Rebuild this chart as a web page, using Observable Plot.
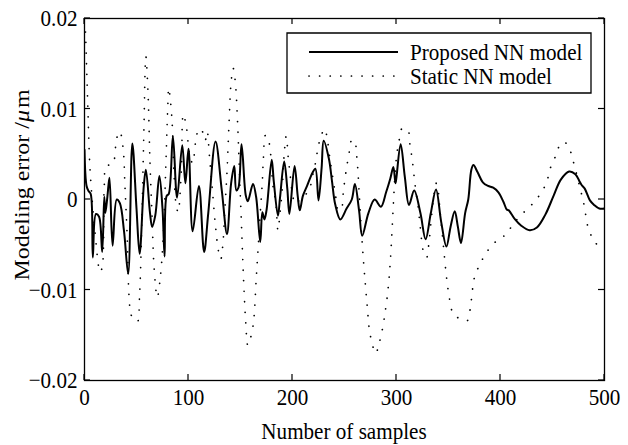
<!DOCTYPE html>
<html>
<head>
<meta charset="utf-8">
<script src="https://cdn.jsdelivr.net/npm/d3@7"></script>
<script src="https://cdn.jsdelivr.net/npm/@observablehq/plot@0.6"></script>
<style>
  html, body { margin: 0; padding: 0; background: white; }
</style>
</head>
<body>
<div id="chart"></div>
<script>
// ---- data ----
const seriesNames = ["Proposed NN model", "Static NN model"];

const proposedSample = [0,2,4,6,8,11,14,17,19,20,22,24,27,31,34,38,42,46,50,53,57,59,63,65,68,72,75,77,79,81,85,89,94,97,100,104,110,115,119,126,132,137,141,144,146,148,151,155,157,162,165,169,171,173,175,180,182,186,188,192,195,197,202,205,207,210,214,219,222,225,228,230,235,238,241,246,252,257,260,264,267,273,279,285,290,294,297,299,300,304,308,312,317,323,328,333,338,343,348,352,356,359,362,366,369,372,374,378,383,388,393,398,403,406,408,414,420,428,435,443,451,458,466,472,476,478,481,486,490,495,500];
const proposedError = [0.0055,0.0015,0.0009,0.0006,-0.0064,-0.0016,-0.0019,-0.0058,0.0003,-0.0015,0.0003,0.0024,-0.0051,0.0000,-0.0004,-0.0035,-0.0082,0.0062,-0.0010,-0.0060,0.0015,0.0033,-0.0015,-0.0030,-0.0018,0.0026,-0.0010,-0.0063,0.0004,0.0006,0.0070,0.0002,0.0060,0.0018,0.0056,-0.0035,0.0015,-0.0058,-0.0015,0.0064,0.0010,-0.0038,0.0018,0.0037,0.0010,0.0013,0.0061,0.0005,-0.0002,0.0017,0.0003,-0.0047,-0.0014,-0.0022,-0.0012,0.0044,0.0020,-0.0018,0.0002,0.0042,0.0012,-0.0016,0.0037,0.0004,-0.0012,0.0004,0.0015,0.0029,0.0034,-0.0001,0.0035,0.0065,0.0045,0.0020,-0.0005,-0.0022,-0.0010,0.0000,0.0017,-0.0012,-0.0040,-0.0015,0.0000,-0.0008,0.0008,0.0023,0.0036,0.0018,0.0025,0.0061,0.0025,-0.0006,0.0010,-0.0015,-0.0044,-0.0015,0.0011,-0.0025,-0.0052,-0.0030,-0.0013,-0.0030,-0.0048,-0.0015,0.0000,0.0033,0.0038,0.0030,0.0019,0.0015,0.0013,0.0008,-0.0003,-0.0011,-0.0012,-0.0022,-0.0029,-0.0034,-0.0031,-0.0017,0.0004,0.0022,0.0031,0.0028,0.0020,0.0016,0.0012,-0.0001,-0.0006,-0.0010,-0.0010];

const staticSample = [1,3,5,7,10,15,17,19,21,27,31,34,37,39,41,43,45,48,51,53,55,57,59,61,63,65,67,70,73,76,78,80,81,84,86,88,90,93,95,98,101,104,107,110,113,116,118,120,123,126,129,131,133,135,137,139,141,143,145,147,149,151,153,155,157,159,161,163,165,167,169,171,172,174,177,179,181,184,186,188,190,192,194,196,198,200,203,207,212,216,219,222,225,228,231,233,236,240,242,244,247,249,252,255,257,260,262,264,266,268,270,272,274,276,278,280,282,284,287,289,291,293,295,297,299,301,303,305,308,311,313,315,318,321,323,326,329,331,334,336,338,340,342,345,348,351,354,358,364,368,371,373,375,380,388,397,406,411,419,429,437,444,448,453,458,462,466,470,476,480,485,491,495];
const staticError = [0.0185,0.0110,0.0040,0.0005,-0.0035,-0.0080,-0.0075,0.0015,0.0037,0.0039,0.0068,0.0075,0.0058,0.0012,-0.0040,-0.0110,-0.0128,-0.0130,-0.0135,-0.0105,-0.0030,0.0070,0.0158,0.0120,0.0040,-0.0020,-0.0077,-0.0108,-0.0085,-0.0035,0.0030,0.0100,0.0123,0.0090,0.0030,-0.0005,-0.0014,0.0030,0.0094,0.0080,0.0050,0.0040,0.0065,0.0078,0.0076,0.0065,0.0075,0.0050,0.0010,-0.0030,-0.0058,-0.0066,-0.0050,-0.0010,0.0030,0.0085,0.0130,0.0145,0.0130,0.0090,0.0030,-0.0030,-0.0090,-0.0135,-0.0161,-0.0155,-0.0147,-0.0130,-0.0090,-0.0053,-0.0015,0.0020,0.0045,0.0071,0.0065,0.0050,0.0017,-0.0004,-0.0034,-0.0015,0.0010,0.0050,0.0070,0.0045,0.0025,0.0005,-0.0005,0.0000,0.0005,0.0010,0.0025,0.0040,0.0060,0.0072,0.0078,0.0070,0.0045,0.0015,0.0000,-0.0012,-0.0010,0.0010,0.0035,0.0055,0.0066,0.0063,0.0045,0.0010,-0.0030,-0.0064,-0.0093,-0.0120,-0.0145,-0.0156,-0.0165,-0.0170,-0.0165,-0.0156,-0.0140,-0.0125,-0.0108,-0.0085,-0.0050,-0.0005,0.0035,0.0056,0.0068,0.0078,0.0078,0.0077,0.0060,0.0045,0.0015,-0.0010,-0.0032,-0.0058,-0.0064,-0.0050,-0.0015,0.0005,0.0018,0.0010,-0.0015,-0.0050,-0.0085,-0.0110,-0.0125,-0.0130,-0.0132,-0.0134,-0.0120,-0.0100,-0.0086,-0.0072,-0.0056,-0.0045,-0.0038,-0.0029,-0.0018,-0.0007,0.0004,0.0018,0.0035,0.0048,0.0062,0.0063,0.0057,0.0042,0.0015,-0.0004,-0.0034,-0.0047,-0.0053];

const xTicks = [0, 100, 200, 300, 400, 500];
const xTickLabels = ["0", "100", "200", "300", "400", "500"];
const yTicks = [-0.02, -0.01, 0, 0.01, 0.02];
const yTickLabels = ["\u22120.02", "\u22120.01", "0", "0.01", "0.02"];
const xLabel = "Number of samples";
const yLabelParts = ["Modeling error /", "\u03bc", "m"];

// ---- tables built from the arrays ----
const proposed = proposedSample.map((s, i) => ({sample: s, error: proposedError[i]}));
const staticNN = staticSample.map((s, i) => ({sample: s, error: staticError[i]}));

const FONT = "'Liberation Serif', 'Times New Roman', 'DejaVu Serif', serif";
const FS = 24;       // font size
const SQ = 0.88;     // horizontal squeeze of the reference's glyphs

const plot = Plot.plot({
  width: 628,
  height: 445,
  marginLeft: 84,
  marginRight: 24,
  marginTop: 18,
  marginBottom: 65,
  style: {fontFamily: FONT, fontSize: FS + "px", background: "white", color: "black", overflow: "visible"},
  x: {domain: [0, 500]},
  y: {domain: [-0.02, 0.02]},
  marks: [
    Plot.axisX({ticks: xTicks, tickFormat: d => xTickLabels[xTicks.indexOf(d)], tickSize: 0, tickPadding: 7, label: null, fontSize: FS}),
    Plot.axisY({ticks: yTicks, tickFormat: d => yTickLabels[yTicks.indexOf(d)], tickSize: 0, tickPadding: 7, label: null, fontSize: FS}),
    Plot.line(staticNN, {x: "sample", y: "error", stroke: "black", strokeWidth: 1.7, strokeLinecap: "round", strokeDasharray: "0.1 10.5", curve: "catmull-rom", clip: true}),
    Plot.line(proposed, {x: "sample", y: "error", stroke: "black", strokeWidth: 2, curve: "catmull-rom", clip: true}),
    Plot.frame({stroke: "black", strokeWidth: 1.3})
  ]
});

document.getElementById("chart").appendChild(plot);

const svg = d3.select(plot);

// squeeze Plot's tick labels horizontally like the reference's glyphs
svg.selectAll("text").each(function() {
  const t = this.getAttribute("transform") || "";
  const x = parseFloat(this.getAttribute("x")) || 0;
  this.setAttribute("transform", `${t} translate(${x},0) scale(${SQ},1) translate(${-x},0)`);
});

const sx = plot.scale("x"), sy = plot.scale("y");
const x0 = sx.range[0], x1 = sx.range[1];
const yB = sy.range[0], yT = sy.range[1];

// inward ticks on all four sides, positioned by Plot's scales
const T = 6;
const g = svg.append("g").attr("stroke", "black").attr("stroke-width", 1.2);
xTicks.forEach(v => {
  const px = sx.apply(v);
  g.append("line").attr("x1", px).attr("x2", px).attr("y1", yB).attr("y2", yB - T);
  g.append("line").attr("x1", px).attr("x2", px).attr("y1", yT).attr("y2", yT + T);
});
yTicks.forEach(v => {
  const py = sy.apply(v);
  g.append("line").attr("y1", py).attr("y2", py).attr("x1", x0).attr("x2", x0 + T);
  g.append("line").attr("y1", py).attr("y2", py).attr("x1", x1).attr("x2", x1 - T);
});

// axis titles
svg.append("text")
  .attr("transform", `translate(${(x0 + x1) / 2},431) scale(${SQ},1)`)
  .attr("text-anchor", "middle").attr("dy", "0.33em")
  .attr("font-family", FONT).attr("font-size", FS).attr("fill", "black")
  .text(xLabel);

const yl = svg.append("text")
  .attr("transform", `translate(22,185) rotate(-90) scale(1,${SQ})`)
  .attr("text-anchor", "middle").attr("dy", "0.33em")
  .attr("font-family", FONT).attr("font-size", FS).attr("fill", "black");
yl.append("tspan").text(yLabelParts[0]);
yl.append("tspan").attr("font-style", "italic").text(yLabelParts[1]);
yl.append("tspan").attr("dx", 2).text(yLabelParts[2]);

// legend box inside the plot (top right)
const lg = svg.append("g");
lg.append("path").attr("d", "M287,33H591V93H287Z")
  .style("fill", "white").style("stroke", "black").style("stroke-width", "1.3px");
const rows = [
  {name: seriesNames[0], dash: null, w: 2, y: 52},
  {name: seriesNames[1], dash: "0.1 10.5", w: 1.7, y: 76}
];
rows.forEach(r => {
  const ln = lg.append("line").attr("x1", 309).attr("x2", 398).attr("y1", r.y).attr("y2", r.y)
    .style("stroke", "black").style("stroke-width", r.w + "px").style("stroke-linecap", r.dash ? "round" : "butt");
  if (r.dash) ln.style("stroke-dasharray", r.dash);
  lg.append("text")
    .attr("transform", `translate(410,${r.y}) scale(${SQ},1)`)
    .attr("text-anchor", "start").attr("dy", "0.33em")
    .attr("font-family", FONT).attr("font-size", FS).attr("fill", "black")
    .text(r.name);
});
</script>
</body>
</html>
